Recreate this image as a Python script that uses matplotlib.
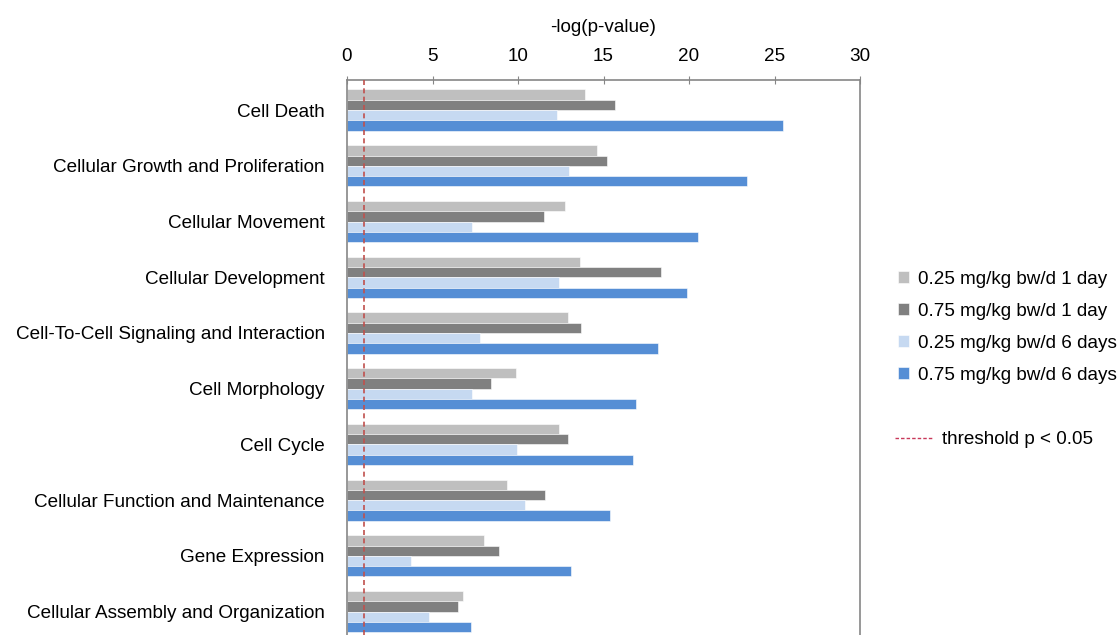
#!/usr/bin/env python3
'''
plot.py
  Horizontal grouped bar chart of -log(p-value) per biological function
  for four dose / duration groups, with a p < 0.05 threshold line.
'''

import numpy as np
from matplotlib import pyplot as plt
from matplotlib.lines import Line2D

#
#   Data
#
categories = [
    'Cell Death',
    'Cellular Growth and Proliferation',
    'Cellular Movement',
    'Cellular Development',
    'Cell-To-Cell Signaling and Interaction',
    'Cell Morphology',
    'Cell Cycle',
    'Cellular Function and Maintenance',
    'Gene Expression',
    'Cellular Assembly and Organization',
]

series_labels = [
    '0.25 mg/kg bw/d 1 day',
    '0.75 mg/kg bw/d 1 day',
    '0.25 mg/kg bw/d 6 days',
    '0.75 mg/kg bw/d 6 days',
]

low_1day = [13.9, 14.6, 12.75, 13.6, 12.9, 9.9, 12.4, 9.35, 8.0, 6.8]
high_1day = [15.7, 15.2, 11.5, 18.35, 13.7, 8.4, 12.9, 11.55, 8.9, 6.5]
low_6days = [12.3, 13.0, 7.3, 12.4, 7.8, 7.3, 9.95, 10.4, 3.75, 4.8]
high_6days = [25.5, 23.4, 20.5, 19.9, 18.2, 16.9, 16.7, 15.4, 13.1, 7.25]

threshold = 1.0
threshold_label = 'threshold p < 0.05'

colors = ['#BFBFBF', '#808080', '#C6D9F1', '#558ED5']

#
#   Plot
#
plt.rcParams['font.family'] = ['Liberation Sans', 'DejaVu Sans']
fsize = 13.6

fig = plt.figure(figsize=(11.17, 6.35), dpi=100)
ax = fig.add_axes([347 / 1117, 0.0, 513 / 1117, 1 - 80 / 635])

y = np.arange(len(categories))
bar_h = 0.185
all_series = [low_1day, high_1day, low_6days, high_6days]
handles = []
for i, vals in enumerate(all_series):
    offset = (i - 1.5) * bar_h
    h = ax.barh(y + offset, vals, height=bar_h, color=colors[i],
                edgecolor='white', linewidth=0.4, label=series_labels[i])
    handles.append(h)

ax.axvline(threshold, color='#C0504D', linestyle=(0, (3, 2)),
           linewidth=1.2, zorder=5)

ax.set_xlim(0, 30)
ax.set_ylim(len(categories) - 1 + 0.42, -0.54)
ax.set_xticks(range(0, 31, 5))
ax.xaxis.tick_top()
ax.xaxis.set_label_position('top')
ax.set_xlabel('-log(p-value)', fontsize=fsize, labelpad=12)
ax.tick_params(axis='x', direction='inout', length=6, color='#868686',
               labelsize=fsize, pad=7.5)
ax.set_yticks(y)
ax.set_yticklabels(categories, fontsize=fsize)
ax.tick_params(axis='y', length=0, pad=16)

for side in ['left', 'right', 'top']:
    ax.spines[side].set_color('#868686')
    ax.spines[side].set_linewidth(1.2)
ax.spines['bottom'].set_visible(False)

# Legend for the four series
leg = fig.legend(handles=handles, labels=series_labels,
                 loc='upper left', bbox_to_anchor=(898 / 1117, 1 - 271 / 635),
                 frameon=False, fontsize=fsize, borderpad=0, borderaxespad=0,
                 handlelength=0.6, handleheight=0.6, handletextpad=0.45,
                 labelspacing=0.79)

# Separate legend entry for the threshold line
thr_handle = Line2D([0], [0], color='#C8385A', linestyle=(0, (2.5, 1.5)),
                    linewidth=1.0)
leg2 = fig.legend(handles=[thr_handle], labels=[threshold_label],
                  loc='upper left', bbox_to_anchor=(895 / 1117, 1 - 431 / 635),
                  frameon=False, fontsize=fsize, borderpad=0, borderaxespad=0,
                  handlelength=2.0, handletextpad=0.5)

fig.savefig('out.png', dpi=100)
plt.close(fig)
